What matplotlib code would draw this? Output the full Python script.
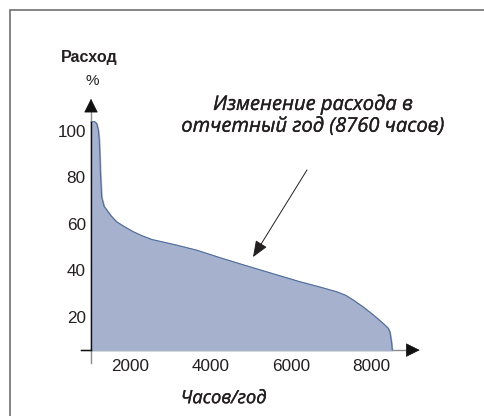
import numpy as np
import matplotlib.pyplot as plt
import matplotlib.patheffects as pe
from matplotlib.patches import Rectangle

# Load duration curve (hours per year vs flow, %)
hours = [1035, 1120, 1175, 1215, 1240, 1255, 1270, 1300, 1360, 1425, 1540, 1670, 1870,
         2085, 2300, 2540, 3100, 3655, 4300, 4980, 5600, 6220, 6700, 7130, 7350,
         7545, 7800, 8040, 8250, 8410, 8450, 8470, 8495, 8510]
flow = [104.3, 104.5, 103.7, 101.0, 96.6, 90.0, 82.0, 72.0, 68.0, 66.5, 63.8, 61.4, 59.2,
        57.1, 55.4, 53.8, 51.6, 49.2, 45.6, 42.0, 38.8, 35.6, 33.4, 31.3, 29.8,
        27.7, 24.6, 21.3, 18.2, 15.6, 14.0, 12.0, 9.0, 6.2]

x_ticks = [2000, 4000, 6000, 8000]
y_ticks = [20, 40, 60, 80, 100]

axis_x = 1035   # where the vertical axis sits
axis_y = 6.2    # where the horizontal axis sits

fig = plt.figure(figsize=(4.85, 4.16), dpi=100)
ax = fig.add_axes([0, 0, 1, 1])
ax.set_xlim(-1223, 10811)
ax.set_ylim(-22.15, 156.8)
ax.axis('off')

# frame around the picture
fig.patches.append(Rectangle((10 / 485, -0.1), 1.2, 1 - 10 / 416 + 0.1,
                             transform=fig.transFigure, fill=False,
                             edgecolor='#6e6e6e', linewidth=1.2))

ax.fill_between(hours, flow, axis_y, color='#a6b1cd', zorder=2)
ax.plot(hours, flow, color='#4d6c9c', linewidth=0.8, zorder=3)

# axes lines
ax.plot([axis_x, axis_x], [0.6, 111], color='#8c8c8c', linewidth=1.0, zorder=1)
ax.plot([axis_x, axis_x], [axis_y, 104.3], color='#111111', linewidth=1.0, zorder=4)
ax.plot([780, 9000], [axis_y, axis_y], color='#8c8c8c', linewidth=1.0, zorder=1)
ax.plot([780, axis_x], [axis_y, axis_y], color='#111111', linewidth=1.0, zorder=4)
ax.annotate('', xy=(axis_x, 115.5), xytext=(axis_x, 109),
            arrowprops=dict(arrowstyle='-|>,head_length=0.9,head_width=0.45',
                            color='#111111', lw=0.5), zorder=5)
ax.annotate('', xy=(9260, axis_y), xytext=(8950, axis_y),
            arrowprops=dict(arrowstyle='-|>,head_length=0.9,head_width=0.45',
                            color='#111111', lw=0.5), zorder=5)

# tick labels
for t in x_ticks:
    ax.text(t, axis_y - 7, str(t), ha='center', va='center',
            fontsize=12.3, family='Liberation Sans', color='#231f20')
for t in y_ticks:
    ax.text(axis_x - 130, t, str(t), ha='right', va='center',
            fontsize=12.3, family='Liberation Sans', color='#231f20')

thick = [pe.withStroke(linewidth=0.25, foreground='#231f20')]

ax.text(axis_x - 50, 132.2, 'Расход', ha='center', va='center',
        fontsize=11.6, fontweight='bold', family='Liberation Sans', color='#231f20')
ax.text(axis_x + 20, 121.8, '%', ha='center', va='center',
        fontsize=11, family='Liberation Sans', color='#231f20')
ax.text(4330, -14.5, 'Часов/год', ha='center', va='center',
        fontsize=13.2, style='italic', family='Open Sans', color='#231f20',
        path_effects=thick)

ax.text(6540, 107.2, 'Изменение расхода в\nотчетный год (8760 часов)',
        ha='center', va='center', fontsize=14.5, style='italic',
        family='Open Sans', color='#231f20', linespacing=1.12,
        path_effects=thick)

ax.annotate('', xy=(5055, 46.2), xytext=(6395, 83.7),
            arrowprops=dict(arrowstyle='-|>,head_length=1.0,head_width=0.4',
                            color='#231f20', lw=0.7, shrinkA=0, shrinkB=0), zorder=5)

fig.savefig('out.png', dpi=100)
